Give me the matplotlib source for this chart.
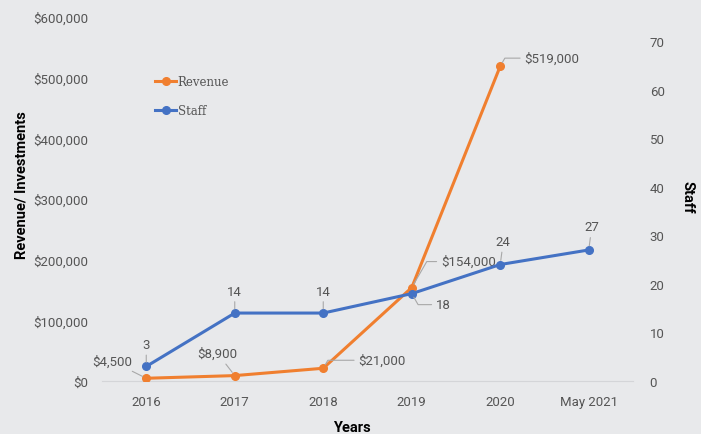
import matplotlib.pyplot as plt
import numpy as np

years = ["2016", "2017", "2018", "2019", "2020", "May 2021"]
revenue = [4500, 8900, 21000, 154000, 519000]
staff = [3, 14, 14, 18, 24, 27]

revenue_labels = ["$4,500", "$8,900", "$21,000", "$154,000", "$519,000"]
staff_labels = ["3", "14", "14", "18", "24", "27"]

bg = "#e8e9eb"
orange = "#f07f2f"
blue = "#4472c4"
txt = "#555555"

plt.rcParams["font.family"] = ["Roboto", "DejaVu Sans"]

fig = plt.figure(figsize=(7.01, 4.35), dpi=100, facecolor=bg)
ax = fig.add_axes([102 / 701, 53 / 435, 531 / 701, 364 / 435], facecolor=bg)
ax2 = ax.twinx()

x = np.arange(len(years))

l1, = ax.plot(x[:len(revenue)], revenue, color=orange, lw=2.2, marker="o", ms=5.5,
              label="Revenue", zorder=3)
l2, = ax2.plot(x, staff, color=blue, lw=2.2, marker="o", ms=5.5, label="Staff", zorder=3)

ax.set_xlim(-0.5, len(years) - 0.5)
ax.set_ylim(0, 600000)
ax2.set_ylim(0, 75)
ax.set_yticks(np.arange(0, 600001, 100000))
ax.set_yticklabels(["$0"] + ["${:,.0f}".format(v) for v in range(100000, 600001, 100000)])
ax2.set_yticks(np.arange(0, 71, 10))
ax.set_xticks(x)
ax.set_xticklabels(years)

for a in (ax, ax2):
    for s in a.spines.values():
        s.set_visible(False)
    a.tick_params(length=0, colors=txt, labelsize=9.5)
ax.spines["bottom"].set_visible(True)
ax.spines["bottom"].set_color("#d4d5d8")
ax.tick_params(axis="y", pad=10)
ax.tick_params(axis="x", pad=10)
ax2.tick_params(axis="y", pad=12)

line_kw = dict(arrowstyle="-", color="#a8a8a8", lw=0.8, shrinkA=1, shrinkB=3)

# revenue labels (offsets in pixels)
rev_off = [(-14, 17), (-17, 22), (35, 8), (29, 26), (24, 8)]
rev_ha = ["right", "center", "left", "left", "left"]
for i, (v, lab) in enumerate(zip(revenue, revenue_labels)):
    dx, dy = rev_off[i]
    ax.annotate(lab, xy=(x[i], v), xytext=(dx, dy), textcoords="offset pixels",
                ha=rev_ha[i], va="center", fontsize=9.5, color=txt,
                arrowprops=dict(line_kw, connectionstyle="angle,angleA=0,angleB=60"
                                if rev_ha[i] == "left" else "arc3"))

staff_off = [(0, 22), (0, 22), (0, 22), (24, -11), (3, 23), (3, 23)]
staff_ha = ["center", "center", "center", "left", "center", "center"]
for i, (v, lab) in enumerate(zip(staff, staff_labels)):
    dx, dy = staff_off[i]
    ax2.annotate(lab, xy=(x[i], v), xytext=(dx, dy), textcoords="offset pixels",
                 ha=staff_ha[i], va="center", fontsize=9.5, color=txt,
                 arrowprops=dict(line_kw, connectionstyle="angle,angleA=0,angleB=-60"
                                 if staff_ha[i] == "left" else "arc3"))

leg = ax.legend(handles=[l1, l2], loc="upper left", bbox_to_anchor=(0.08, 0.87),
                frameon=False, handlelength=1.8, handletextpad=0.1, labelspacing=1.4,
                prop={"family": "DejaVu Serif", "size": 8.5})
for t in leg.get_texts():
    t.set_color(txt)

fig.text(22 / 701, 1 - 185 / 435, "Revenue/ Investments", rotation=90, ha="center",
         va="center", fontsize=10.5, fontweight="bold", color="black")
fig.text(688 / 701, 1 - 197 / 435, "Staff", rotation=-90, ha="center", va="center",
         fontsize=10.5, fontweight="bold", color="black")
fig.text(352 / 701, 1 - 428 / 435, "Years", ha="center", va="center",
         fontsize=10.5, fontweight="bold", color="black")

fig.savefig("out.png", dpi=100, facecolor=bg)
